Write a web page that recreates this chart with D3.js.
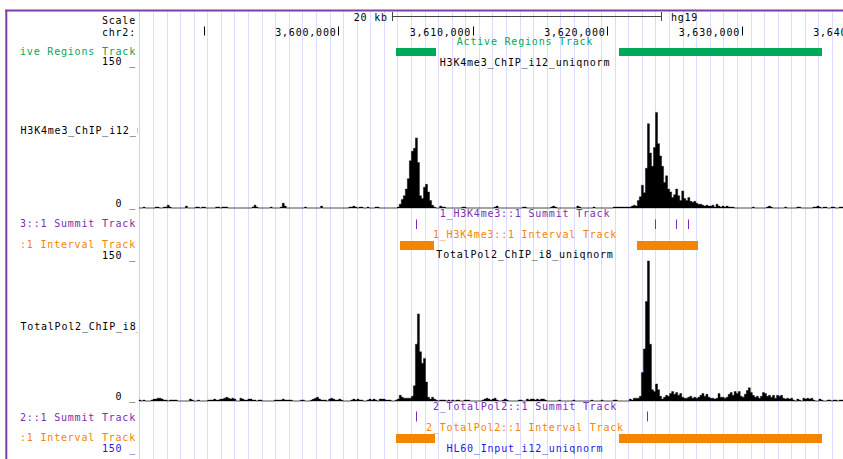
<!DOCTYPE html>
<html>
<head>
<meta charset="utf-8">
<script src="https://cdn.jsdelivr.net/npm/d3@7"></script>
<style>
    body { margin: 0; background: #fff; }
    svg text { font-family: "DejaVu Sans Mono", monospace; font-size: 10px; letter-spacing: 0.8px; }
</style>
</head>
<body>
<svg id="chart" width="843" height="459"></svg>
<script>
// window shown (kb on chr2, hg19)
const chrom = "chr2:";
const assembly = "hg19";
const viewStartKb = 3585.2, viewEndKb = 3637.54;
const binKb = 0.15;   // wiggle bin size
const wigMax = 150;

const tickKb = [3590, 3600, 3610, 3620, 3630, 3640];
const tickLabels = ["", "3,600,000", "3,610,000", "3,620,000", "3,630,000", "3,640,000"];
const scaleBarKb = [3604, 3624];
const scaleBarLabel = "20 kb";

const activeRegions = [[3604.29, 3607.26], [3620.87, 3635.99]];
const h3k4Summits = [3605.80, 3623.57, 3625.11, 3626.00];
const h3k4Intervals = [[3604.61, 3607.14], [3622.21, 3626.74]];
const pol2Summits = [3605.80, 3623.00];
const pol2Intervals = [[3604.31, 3607.21], [3620.87, 3635.99]];

// wiggle runs: [first bin, values...] (bin i starts at viewStartKb + i*binKb)
const h3k4Runs = [
    [2, [1]], [8, [1, 1]], [12, [1, 1, 3, 1]], [23, [2]], [28, [1, 1, 0, 1, 1]],
    [38, [1, 1, 0, 1, 1, 1]], [56, [1, 3, 1]], [65, [1]], [70, [1, 5, 2]], [82, [1]],
    [90, [2]], [104, [1, 1, 2, 1, 0, 1, 1]], [113, [1]], [117, [1, 1]],
    [128, [1, 4, 9, 13, 20, 31, 50, 60, 63, 74, 48, 13, 10, 22, 25, 17, 8, 3, 1]],
    [149, [2, 1, 1]], [160, [1, 1]], [176, [1, 2]], [190, [1, 1]], [204, [1, 2, 1]],
    [217, [2, 1]], [225, [1]],
    [235, [1, 1, 1, 1, 1, 1, 1, 1, 1,
        2, 3, 2, 8, 12, 24, 16, 42, 89, 58,
        44, 64, 101, 68, 55, 44, 27, 34, 20, 17,
        11, 14, 20, 13, 8, 18, 10, 8, 11, 7,
        6, 7, 5, 4, 4, 3, 2, 3, 2, 2,
        3, 1, 4, 2, 1, 2, 1, 2, 1, 1, 1]],
    [304, [1]], [311, [1, 2, 1]], [320, [1]], [326, [1, 1]],
    [334, [1, 1, 2, 1, 0, 1, 1]], [343, [1, 1]], [347, [1, 1]]
];

const pol2Runs = [
    [0, [1, 0, 1]], [6, [1, 2, 2, 3, 3, 2, 1, 1]], [15, [1, 1, 1, 1]], [25, [2, 1]], [29, [1]],
    [34, [1, 1, 1, 2, 1, 1, 2, 2, 3, 4, 3, 2, 3, 2]],
    [50, [3, 2, 1, 1, 2, 2, 1, 1, 0, 1, 1]], [67, [1, 1, 1, 1, 2, 1, 1, 1, 1]], [80, [1, 1]],
    [85, [1, 2, 3, 4, 2, 1, 1, 1]], [94, [2, 3, 2, 1, 1, 2, 1]], [105, [1, 2, 1, 2, 1, 1]],
    [113, [1, 2, 1, 2, 1, 0, 2, 2, 2, 1, 1, 1]],
    [127, [1, 2, 6, 4, 3, 3, 3, 3, 5, 16, 60, 92, 52, 40, 45, 20, 4, 2, 4, 2, 1, 0, 1, 1, 1, 0, 1]],
    [155, [1, 0, 1, 1]], [161, [1, 1, 1]], [170, [1, 2, 3, 2, 1, 2, 3, 1]], [180, [1, 2, 1]],
    [188, [1, 1]], [192, [2, 1, 2, 2, 1, 2, 1, 2, 2, 1]], [208, [1]], [215, [1]], [224, [1]],
    [229, [1]], [235, [1, 1]],
    [243, [2, 1, 3, 3, 3, 5, 30, 55, 105, 148,
        60, 12, 10, 18, 12, 5, 2, 4, 6, 5,
        8, 10, 7, 9, 6, 8, 4, 3, 3, 4,
        5, 3, 4, 3, 4, 6, 8, 5, 7, 4,
        3, 3, 2, 3, 8, 4, 4, 3, 4, 7,
        9, 6, 10, 8, 10, 5, 4, 7, 11, 14,
        9, 6, 4, 5, 3, 5, 9, 8, 5, 6,
        4, 6, 3, 6, 5, 6, 3, 2, 3, 2,
        3, 1, 0, 2, 1, 0, 3, 2, 3, 2,
        3, 1, 0, 0, 2, 1, 0, 0, 1, 1,
        0, 1, 1, 0, 1, 1]]
];

const green = "#00a85a", orange = "#f58400", purple = "#7a2eb0", blue = "#1a1ae6";
const frameColor = "#7b3fa6";

const svg = d3.select("#chart");
const W = 843, H = 459;
const dataLeft = 139, labelEnd = 136, centerX = 525;

const x = d3.scaleLinear().domain([viewStartKb, viewEndKb]).range([dataLeft, W]);

// guide lines
const guides = d3.range(139.4, W, 13.58);
svg.append("g").selectAll("line")
    .data(guides)
    .enter().append("line")
    .attr("x1", d => Math.round(d) + 0.5).attr("x2", d => Math.round(d) + 0.5)
    .attr("y1", 11).attr("y2", H)
    .attr("stroke", (d, i) => i === 0 ? "#ffc0c0" : "#dcdcff");

// frame
svg.append("line").attr("x1", 5).attr("x2", W).attr("y1", 10.5).attr("y2", 10.5)
    .attr("stroke", frameColor).attr("stroke-width", 2);
svg.append("line").attr("x1", 6.3).attr("x2", 6.3).attr("y1", 10).attr("y2", H)
    .attr("stroke", frameColor).attr("stroke-width", 2);

// clip for left label column
svg.append("clipPath").attr("id", "leftclip")
    .append("rect").attr("x", 19.5).attr("y", 0).attr("width", 118).attr("height", H);
const left = svg.append("g").attr("clip-path", "url(#leftclip)");

function leftLabel(text, y, color) {
    const t = left.append("text")
        .attr("x", labelEnd).attr("y", y)
        .attr("text-anchor", "end")
        .attr("fill", color || "#000")
        .text(text);
    // like the browser: keep the tail of the name that fits
    let s = text;
    while (t.node().getComputedTextLength() > 118 && s.length > 1) {
        s = s.slice(1);
        t.text(s);
    }
}

function centerLabel(text, y, color) {
    svg.append("text")
        .attr("x", centerX).attr("y", y)
        .attr("text-anchor", "middle")
        .attr("fill", color || "#000")
        .text(text);
}

// scale bar
leftLabel("Scale", 23.5);
svg.append("line").attr("x1", x(scaleBarKb[0])).attr("x2", x(scaleBarKb[1]))
    .attr("y1", 16.5).attr("y2", 16.5).attr("stroke", "#444");
svg.selectAll(".sbend").data(scaleBarKb).enter().append("line")
    .attr("x1", d => Math.round(x(d)) + 0.5).attr("x2", d => Math.round(x(d)) + 0.5)
    .attr("y1", 12).attr("y2", 21).attr("stroke", "#444");
svg.append("text").attr("x", x(scaleBarKb[0]) - 4).attr("y", 20.5)
    .attr("text-anchor", "end").text(scaleBarLabel);
svg.append("text").attr("x", x(scaleBarKb[1]) + 10).attr("y", 20.5).text(assembly);

// chromosome ruler
leftLabel(chrom, 35.5);
svg.append("g").selectAll("line").data(tickKb).enter().append("line")
    .attr("x1", d => Math.round(x(d)) + 0.5).attr("x2", d => Math.round(x(d)) + 0.5)
    .attr("y1", 26.5).attr("y2", 35.5).attr("stroke", "#000");
svg.append("g").selectAll("text").data(tickKb).enter().append("text")
    .attr("x", d => x(d) - 1.5).attr("y", 35.5)
    .attr("text-anchor", "end")
    .text((d, i) => tickLabels[i]);

// bed-like tracks
function intervals(data, y, h, color) {
    svg.append("g").selectAll("rect").data(data).enter().append("rect")
        .attr("x", d => x(d[0])).attr("width", d => x(d[1]) - x(d[0]))
        .attr("y", y).attr("height", h)
        .attr("fill", color).attr("shape-rendering", "crispEdges");
}

function summits(data, y0, y1) {
    svg.append("g").selectAll("line").data(data).enter().append("line")
        .attr("x1", d => Math.round(x(d)) + 0.5).attr("x2", d => Math.round(x(d)) + 0.5)
        .attr("y1", y0).attr("y2", y1).attr("stroke", purple);
}

function wiggle(runs, yBase, yTop) {
    const nBins = Math.ceil((viewEndKb - viewStartKb) / binKb) + 1;
    const vals = new Array(nBins).fill(0);
    runs.forEach(([start, v]) => v.forEach((val, j) => { vals[start + j] = val; }));
    const pts = vals.map((v, i) => ({ kb: viewStartKb + i * binKb, v }));
    pts.push({ kb: viewStartKb + nBins * binKb, v: 0 });
    const y = d3.scaleLinear().domain([0, wigMax]).range([yBase, yTop]);
    const area = d3.area()
        .x(d => x(d.kb))
        .y0(yBase)
        .y1(d => y(Math.min(d.v, wigMax)))
        .curve(d3.curveStepAfter);
    svg.append("path").datum(pts)
        .attr("d", area)
        .attr("fill", "#000")
        .attr("stroke", "#000")
        .attr("stroke-width", 0.4)
        .attr("stroke-linejoin", "miter");
}

// Active regions
centerLabel("Active Regions Track", 45, green);
leftLabel("Active Regions Track", 55, green);
intervals(activeRegions, 47.5, 8.5, green);

// H3K4me3 signal
centerLabel("H3K4me3_ChIP_i12_uniqnorm", 65.5);
leftLabel("150 _", 65);
leftLabel("0 _", 207);
left.append("text").attr("x", 20.5).attr("y", 134).text("H3K4me3_ChIP_i12_uniqnorm");
wiggle(h3k4Runs, 208, 66);

centerLabel("1_H3K4me3::1 Summit Track", 217, purple);
leftLabel("1_H3K4me3::1 Summit Track", 227, purple);
summits(h3k4Summits, 219.5, 229);

centerLabel("1_H3K4me3::1 Interval Track", 238, orange);
leftLabel("1_H3K4me3::1 Interval Track", 248, orange);
intervals(h3k4Intervals, 240.5, 9.5, orange);

// Pol2 signal
centerLabel("TotalPol2_ChIP_i8_uniqnorm", 258);
leftLabel("150 _", 258.5);
leftLabel("0 _", 400);
left.append("text").attr("x", 20.5).attr("y", 329.5).text("TotalPol2_ChIP_i8_uniqnorm");
wiggle(pol2Runs, 401, 259);

centerLabel("2_TotalPol2::1 Summit Track", 410, purple);
leftLabel("2_TotalPol2::1 Summit Track", 420.5, purple);
summits(pol2Summits, 411.5, 421.5);

centerLabel("2_TotalPol2::1 Interval Track", 431, orange);
leftLabel("2_TotalPol2::1 Interval Track", 441, orange);
intervals(pol2Intervals, 433.5, 9.2, orange);

centerLabel("HL60_Input_i12_uniqnorm", 451.5, blue);
leftLabel("150 _", 452, blue);
</script>
</body>
</html>
